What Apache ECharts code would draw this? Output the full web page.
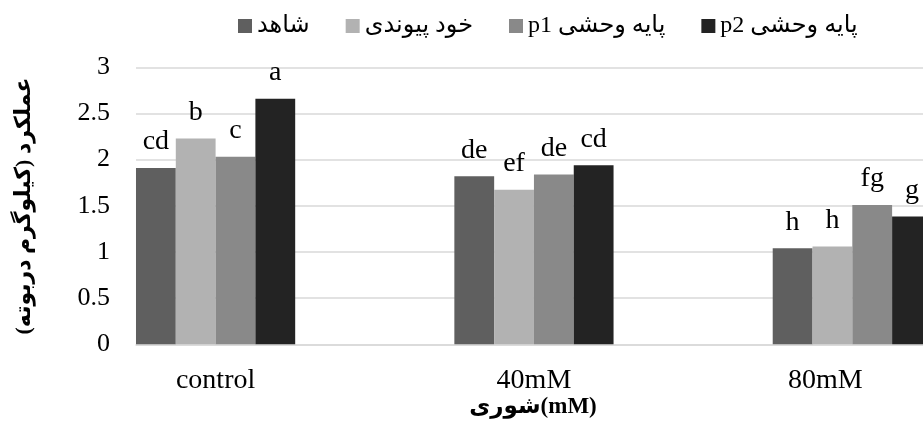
<!DOCTYPE html>
<html><head><meta charset="utf-8">
<script src="https://cdn.jsdelivr.net/npm/echarts@6/dist/echarts.min.js"></script>
<style>html,body{margin:0;padding:0;background:#fff}#c{width:923px;height:423px}</style>
</head><body><div id="c"></div>
<script>
const categories = ['control', '40mM', '80mM'];
const seriesNames = ['شاهد', 'خود پیوندی', 'پایه وحشی p1', 'پایه وحشی p2'];
const valuesShahed = [1.91, 1.82, 1.04];
const valuesKhod = [2.23, 1.675, 1.06];
const valuesP1 = [2.03, 1.84, 1.51];
const valuesP2 = [2.66, 1.94, 1.385];
const lettersShahed = ['cd', 'de', 'h'];
const lettersKhod = ['b', 'ef', 'h'];
const lettersP1 = ['c', 'de', 'fg'];
const lettersP2 = ['a', 'cd', 'g'];
const yTitle = 'عملکرد (کیلوگرم دربوته)';
const xTitle = 'شوری(mM)';

const colors = ['#5f5f5f', '#b2b2b2', '#898989', '#232323'];
const serif = '"Liberation Serif", "DejaVu Serif", "DejaVu Sans", serif';
const allValues = [valuesShahed, valuesKhod, valuesP1, valuesP2];
const allLetters = [lettersShahed, lettersKhod, lettersP1, lettersP2];

const chart = echarts.init(document.getElementById('c'));
const series = seriesNames.map((name, s) => ({
  name: name,
  type: 'bar',
  barWidth: 39.8,
  barGap: '0%',
  itemStyle: { color: colors[s] },
  label: {
    show: true, position: 'top', distance: 12,
    formatter: p => allLetters[s][p.dataIndex],
    fontFamily: serif, fontSize: 28, color: '#000'
  },
  data: categories.map((c, i) => [i + 0.5, allValues[s][i]])
}));

chart.setOption({
  animation: false,
  color: colors,
  legend: {
    data: seriesNames,
    left: 233, top: 9,
    icon: 'rect', itemWidth: 14, itemHeight: 14, itemGap: 36,
    formatter: n => '\u2067' + n + '\u2069',
    textStyle: { fontFamily: serif, fontSize: 24, color: '#000' }
  },
  grid: { left: 136, top: 67.3, width: 875.5, height: 277, outerBoundsMode: 'none', containLabel: false },
  xAxis: {
    type: 'value', min: 0.25, max: 3,
    splitLine: { show: false },
    axisTick: { show: false },
    axisLine: { show: true, lineStyle: { color: '#d9d9d9', width: 1.5 } },
    axisLabel: {
      customValues: [0.5, 1.5, 2.5],
      formatter: v => {
        const i = Math.round(v - 0.5);
        return i === categories.length - 1 ? '{s|' + categories[i] + '}' : categories[i];
      },
      rich: { s: { padding: [0, 54, 0, 0], fontFamily: serif, fontSize: 28, color: '#000' } },
      fontFamily: serif, fontSize: 28, color: '#000', margin: 22
    }
  },
  yAxis: {
    type: 'value', min: 0, max: 3, interval: 0.5,
    axisLine: { show: false }, axisTick: { show: false },
    splitLine: { lineStyle: { color: '#d9d9d9', width: 1.5 } },
    axisLabel: { fontFamily: serif, fontSize: 26, color: '#000', margin: 26 }
  },
  graphic: [
    { type: 'text', x: 533, y: 407,
      style: { text: xTitle, align: 'center', verticalAlign: 'middle', textAlign: 'center', textVerticalAlign: 'middle',
               font: 'bold 23px ' + serif, fill: '#000' } },
    { type: 'text', x: 24, y: 206, rotation: Math.PI / 2,
      style: { text: yTitle, align: 'center', verticalAlign: 'middle', textAlign: 'center', textVerticalAlign: 'middle',
               font: 'bold 22px ' + serif, fill: '#000' } }
  ],
  series: series
});
</script></body></html>
